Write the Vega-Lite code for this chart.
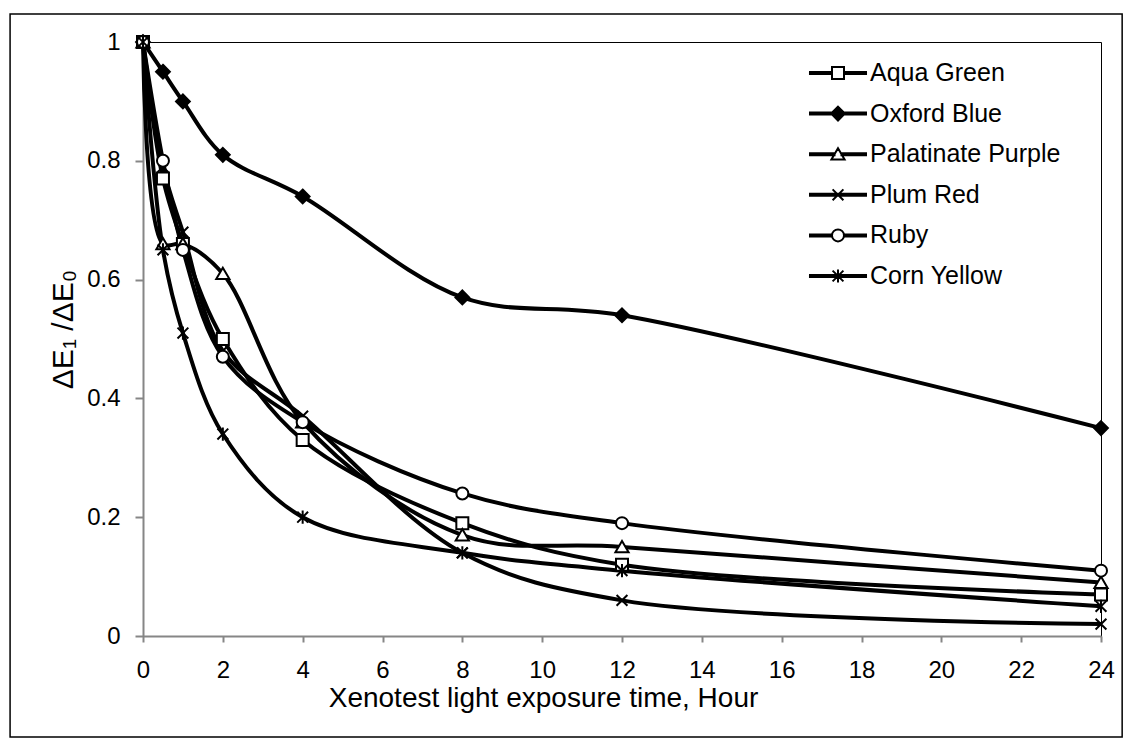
{
  "$schema": "https://vega.github.io/schema/vega-lite/v6.json",
  "width": 958,
  "height": 594,
  "autosize": {"type": "none"},
  "padding": {"left": 143, "top": 42, "right": 32, "bottom": 111},
  "background": "white",
  "config": {
    "view": {"stroke": "black", "strokeWidth": 1},
    "font": "Liberation Sans",
    "axis": {
      "grid": false,
      "domainColor": "#868686",
      "domainWidth": 2,
      "tickColor": "#868686",
      "tickWidth": 2,
      "labelFont": "Liberation Sans",
      "labelFontSize": 24,
      "labelColor": "black",
      "titleFont": "Liberation Sans",
      "titleFontSize": 28,
      "titleFontWeight": "normal",
      "titleColor": "black"
    },
    "legend": {
      "orient": "none",
      "legendX": 682.5,
      "legendY": 18.5,
      "padding": 0,
      "labelFont": "Liberation Sans",
      "labelFontSize": 25,
      "labelColor": "black",
      "labelLimit": 400,
      "labelOffset": 19.5,
      "symbolSize": 144,
      "symbolStrokeWidth": 2,
      "symbolStrokeColor": "black",
      "symbolOpacity": 1,
      "symbolOffset": 0,
      "rowPadding": 14.6
    }
  },
  "resolve": {"scale": {"shape": "independent", "fill": "independent"}},
  "data": {
    "values": [
      {"series": "Aqua Green", "hour": 0, "ratio": 1},
      {"series": "Aqua Green", "hour": 0.5, "ratio": 0.77},
      {"series": "Aqua Green", "hour": 1, "ratio": 0.66},
      {"series": "Aqua Green", "hour": 2, "ratio": 0.5},
      {"series": "Aqua Green", "hour": 4, "ratio": 0.33},
      {"series": "Aqua Green", "hour": 8, "ratio": 0.19},
      {"series": "Aqua Green", "hour": 12, "ratio": 0.12},
      {"series": "Aqua Green", "hour": 24, "ratio": 0.07},
      {"series": "Oxford Blue", "hour": 0, "ratio": 1},
      {"series": "Oxford Blue", "hour": 0.5, "ratio": 0.95},
      {"series": "Oxford Blue", "hour": 1, "ratio": 0.9},
      {"series": "Oxford Blue", "hour": 2, "ratio": 0.81},
      {"series": "Oxford Blue", "hour": 4, "ratio": 0.74},
      {"series": "Oxford Blue", "hour": 8, "ratio": 0.57},
      {"series": "Oxford Blue", "hour": 12, "ratio": 0.54},
      {"series": "Oxford Blue", "hour": 24, "ratio": 0.35},
      {"series": "Palatinate Purple", "hour": 0, "ratio": 1},
      {"series": "Palatinate Purple", "hour": 0.5, "ratio": 0.66},
      {"series": "Palatinate Purple", "hour": 1, "ratio": 0.66},
      {"series": "Palatinate Purple", "hour": 2, "ratio": 0.61},
      {"series": "Palatinate Purple", "hour": 4, "ratio": 0.36},
      {"series": "Palatinate Purple", "hour": 8, "ratio": 0.17},
      {"series": "Palatinate Purple", "hour": 12, "ratio": 0.15},
      {"series": "Palatinate Purple", "hour": 24, "ratio": 0.09},
      {"series": "Plum Red", "hour": 0, "ratio": 1},
      {"series": "Plum Red", "hour": 0.5, "ratio": 0.79},
      {"series": "Plum Red", "hour": 1, "ratio": 0.68},
      {"series": "Plum Red", "hour": 2, "ratio": 0.48},
      {"series": "Plum Red", "hour": 4, "ratio": 0.37},
      {"series": "Plum Red", "hour": 8, "ratio": 0.14},
      {"series": "Plum Red", "hour": 12, "ratio": 0.06},
      {"series": "Plum Red", "hour": 24, "ratio": 0.02},
      {"series": "Ruby", "hour": 0, "ratio": 1},
      {"series": "Ruby", "hour": 0.5, "ratio": 0.8},
      {"series": "Ruby", "hour": 1, "ratio": 0.65},
      {"series": "Ruby", "hour": 2, "ratio": 0.47},
      {"series": "Ruby", "hour": 4, "ratio": 0.36},
      {"series": "Ruby", "hour": 8, "ratio": 0.24},
      {"series": "Ruby", "hour": 12, "ratio": 0.19},
      {"series": "Ruby", "hour": 24, "ratio": 0.11},
      {"series": "Corn Yellow", "hour": 0, "ratio": 1},
      {"series": "Corn Yellow", "hour": 0.5, "ratio": 0.65},
      {"series": "Corn Yellow", "hour": 1, "ratio": 0.51},
      {"series": "Corn Yellow", "hour": 2, "ratio": 0.34},
      {"series": "Corn Yellow", "hour": 4, "ratio": 0.2},
      {"series": "Corn Yellow", "hour": 8, "ratio": 0.14},
      {"series": "Corn Yellow", "hour": 12, "ratio": 0.11},
      {"series": "Corn Yellow", "hour": 24, "ratio": 0.05}
    ]
  },
  "layer": [
    {
      "mark": {"type": "line", "interpolate": "catmull-rom", "strokeWidth": 4, "color": "black", "strokeJoin": "round"},
      "encoding": {
        "x": {
          "field": "hour", "type": "quantitative",
          "scale": {"domain": [0, 24], "nice": false},
          "axis": {
            "values": [0, 2, 4, 6, 8, 10, 12, 14, 16, 18, 20, 22, 24],
            "tickSize": 6,
            "labelPadding": 16,
            "labelFlush": false,
            "labelOverlap": false,
            "title": "Xenotest light exposure time, Hour",
            "titleX": 400,
            "titleY": 48,
            "titleAlign": "center",
            "titleBaseline": "top"
          }
        },
        "y": {
          "field": "ratio", "type": "quantitative",
          "scale": {"domain": [0, 1], "nice": false},
          "axis": {
            "values": [0, 0.2, 0.4, 0.6, 0.8, 1],
            "format": ".1~f",
            "tickSize": 8,
            "labelPadding": 15,
            "labelFlush": false,
            "labelOverlap": false,
            "title": "ΔE₁ /ΔE₀",
            "titleFontSize": 30,
            "titleX": -80,
            "titleY": 287,
            "titleAngle": -90,
            "titleAlign": "center",
            "titleBaseline": "middle"
          }
        },
        "detail": {"field": "series", "type": "nominal"}
      }
    },
    {
      "mark": {"type": "point", "size": 144, "strokeWidth": 2, "stroke": "black", "opacity": 1, "filled": true},
      "encoding": {
        "x": {"field": "hour", "type": "quantitative"},
        "y": {"field": "ratio", "type": "quantitative"},
        "fill": {"condition": {"test": "datum.series === 'Oxford Blue'", "value": "black"}, "value": "white"},
        "shape": {
          "field": "series",
          "type": "nominal",
          "scale": {
            "domain": ["Aqua Green", "Oxford Blue", "Palatinate Purple", "Plum Red", "Ruby", "Corn Yellow"],
            "range": [
              "M-1,-1H1V1H-1Z",
              "M0,-1.15L1.15,0L0,1.15L-1.15,0Z",
              "M0,-1L1.1,0.9H-1.1Z",
              "M-0.9,-0.9L0.9,0.9M-0.9,0.9L0.9,-0.9",
              "M-1,0A1,1,0,1,0,1,0A1,1,0,1,0,-1,0Z",
              "M-0.9,-0.9L0.9,0.9M-0.9,0.9L0.9,-0.9M0,-1.1V1.1"
            ]
          },
          "legend": null
        }
      }
    },
    {
      "transform": [{"filter": "false"}],
      "mark": {"type": "point", "size": 144, "strokeWidth": 2, "stroke": "black", "filled": true},
      "encoding": {
        "x": {"field": "hour", "type": "quantitative"},
        "y": {"field": "ratio", "type": "quantitative"},
        "fill": {
          "field": "series",
          "type": "nominal",
          "scale": {
            "domain": ["Aqua Green", "Oxford Blue", "Palatinate Purple", "Plum Red", "Ruby", "Corn Yellow"],
            "range": ["white", "black", "white", "white", "white", "white"]
          },
          "legend": {
            "title": null,
            "symbolSize": 144,
            "encode": {"symbols": {"update": {"stroke": {"value": "black"}, "strokeWidth": {"value": 2}, "opacity": {"value": 1}}}}
          }
        },
        "shape": {
          "field": "series",
          "type": "nominal",
          "scale": {
            "domain": ["Aqua Green", "Oxford Blue", "Palatinate Purple", "Plum Red", "Ruby", "Corn Yellow"],
            "range": [
              "M-4.67,-0.17H-1V0.17H-4.67ZM1,-0.17H4.67V0.17H1ZM-1,-1H1V1H-1Z",
              "M-4.67,-0.17H4.67V0.17H-4.67ZM0,-1.15L1.15,0L0,1.15L-1.15,0Z",
              "M-4.67,-0.17H-0.58V0.17H-4.67ZM0.58,-0.17H4.67V0.17H0.58ZM0,-1L1.1,0.9H-1.1Z",
              "M-4.67,-0.17H4.67V0.17H-4.67ZM-0.9,-0.9L0.9,0.9M-0.9,0.9L0.9,-0.9",
              "M-4.67,-0.17H-1V0.17H-4.67ZM1,-0.17H4.67V0.17H1ZM-1,0A1,1,0,1,0,1,0A1,1,0,1,0,-1,0Z",
              "M-4.67,-0.17H4.67V0.17H-4.67ZM-0.9,-0.9L0.9,0.9M-0.9,0.9L0.9,-0.9M0,-1.1V1.1"
            ]
          },
          "legend": {
            "title": null,
            "symbolSize": 144,
            "encode": {"symbols": {"update": {"stroke": {"value": "black"}, "strokeWidth": {"value": 2}, "opacity": {"value": 1}}}}
          }
        }
      }
    },
    {
      "data": {"values": [{}]},
      "mark": {"type": "rect", "fill": null, "stroke": "black", "strokeWidth": 1.5, "clip": false},
      "encoding": {
        "x": {"datum": -3.33, "type": "quantitative", "scale": {"domain": [0, 24], "nice": false}},
        "x2": {"datum": 24.53},
        "y": {"datum": 1.047, "type": "quantitative", "scale": {"domain": [0, 1], "nice": false}},
        "y2": {"datum": -0.17}
      }
    }
  ]
}
